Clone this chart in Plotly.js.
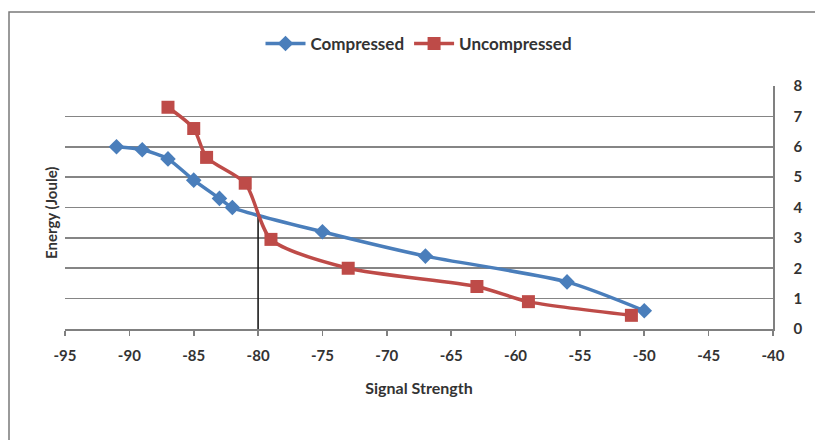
<!DOCTYPE html>
<html>
<head>
<meta charset="utf-8">
<script src="https://cdn.plot.ly/plotly-3.0.1.min.js"></script>
<style>
  html, body { margin: 0; padding: 0; background: #fff; }
  #chart { width: 815px; height: 440px; }
</style>
</head>
<body>
<div id="chart"></div>
<script>
// Energy used versus signal strength, with and without compression
const compressedSignal = [-91, -89, -87, -85, -83, -82, -75, -67, -56, -50];
const compressedEnergy = [6.0, 5.9, 5.6, 4.9, 4.3, 4.0, 3.2, 2.4, 1.55, 0.6];

const uncompressedSignal = [-87, -85, -84, -81, -79, -73, -63, -59, -51];
const uncompressedEnergy = [7.3, 6.6, 5.65, 4.8, 2.95, 2.0, 1.4, 0.9, 0.45];

// Marker line at -80 dBm up to where the two curves cross
const cutoffSignal = [-80, -80];
const cutoffEnergy = [0, 3.7];

const xTicks = [-95, -90, -85, -80, -75, -70, -65, -60, -55, -50, -45, -40];
const yTicks = [0, 1, 2, 3, 4, 5, 6, 7, 8];

const FONT = 'Lato, "Open Sans", sans-serif';
const TEXT = '#333333';
const BLUE = '#4a7ebb';
const RED = '#be4b48';

const traces = [
  {
    x: cutoffSignal, y: cutoffEnergy, mode: 'lines', showlegend: false,
    line: { color: '#1a1a1a', width: 1.6 }, hoverinfo: 'skip'
  },
  {
    name: 'Compressed', x: compressedSignal, y: compressedEnergy,
    mode: 'lines+markers',
    line: { color: BLUE, width: 3.5, shape: 'spline', smoothing: 0.7 },
    marker: { symbol: 'diamond', size: 12, color: BLUE }
  },
  {
    name: 'Uncompressed', x: uncompressedSignal, y: uncompressedEnergy,
    mode: 'lines+markers',
    line: { color: RED, width: 3.5, shape: 'spline', smoothing: 0.7 },
    marker: { symbol: 'square', size: 13, color: RED }
  }
];

const layout = {
  width: 815, height: 440,
  margin: { l: 65, r: 42, t: 86, b: 111 },
  paper_bgcolor: '#ffffff', plot_bgcolor: '#ffffff',
  font: { family: FONT, color: TEXT, size: 14, weight: 700 },
  showlegend: true,
  legend: {
    orientation: 'h', x: 0.5, xanchor: 'center', y: 1.173, yanchor: 'middle',
    font: { family: FONT, size: 17, color: TEXT, weight: 700 },
    itemwidth: 40, tracegroupgap: 0, bgcolor: 'rgba(0,0,0,0)'
  },
  xaxis: {
    range: [-95, -40], tickvals: xTicks, ticktext: xTicks.map(String),
    showgrid: false, zeroline: false,
    showline: true, linecolor: '#808080', linewidth: 1.6,
    ticks: 'outside', ticklen: 5, tickcolor: '#808080', tickwidth: 1.6,
    ticklabelstandoff: 7,
    tickfont: { family: FONT, size: 15, color: TEXT, weight: 700 },
    title: { text: 'Signal Strength', standoff: 20,
             font: { family: FONT, size: 16, color: TEXT, weight: 700 } }
  },
  yaxis: {
    side: 'right', range: [0, 8], tickvals: yTicks,
    showgrid: true, gridcolor: '#858585', gridwidth: 1.7,
    zeroline: false, showline: true, linecolor: '#808080', linewidth: 1.6,
    ticks: '', ticklabelstandoff: 16,
    tickfont: { family: FONT, size: 15, color: TEXT, weight: 700 }
  },
  annotations: [
    {
      text: 'Energy (Joule)', xref: 'paper', yref: 'paper',
      x: (51 - 65) / 708, y: (329 - 213) / 243, textangle: -90,
      showarrow: false, xanchor: 'center', yanchor: 'middle',
      font: { family: FONT, size: 15, color: TEXT, weight: 700 }
    }
  ],
  shapes: [
    {
      type: 'rect', xref: 'paper', yref: 'paper', layer: 'below',
      x0: (9 - 65) / 708, x1: 1.2, y0: -0.6, y1: (329 - 12) / 243,
      line: { color: '#7a7a7a', width: 1.5 }, fillcolor: 'rgba(0,0,0,0)'
    }
  ]
};

Plotly.newPlot('chart', traces, layout, { displayModeBar: false, staticPlot: true });
</script>
</body>
</html>
